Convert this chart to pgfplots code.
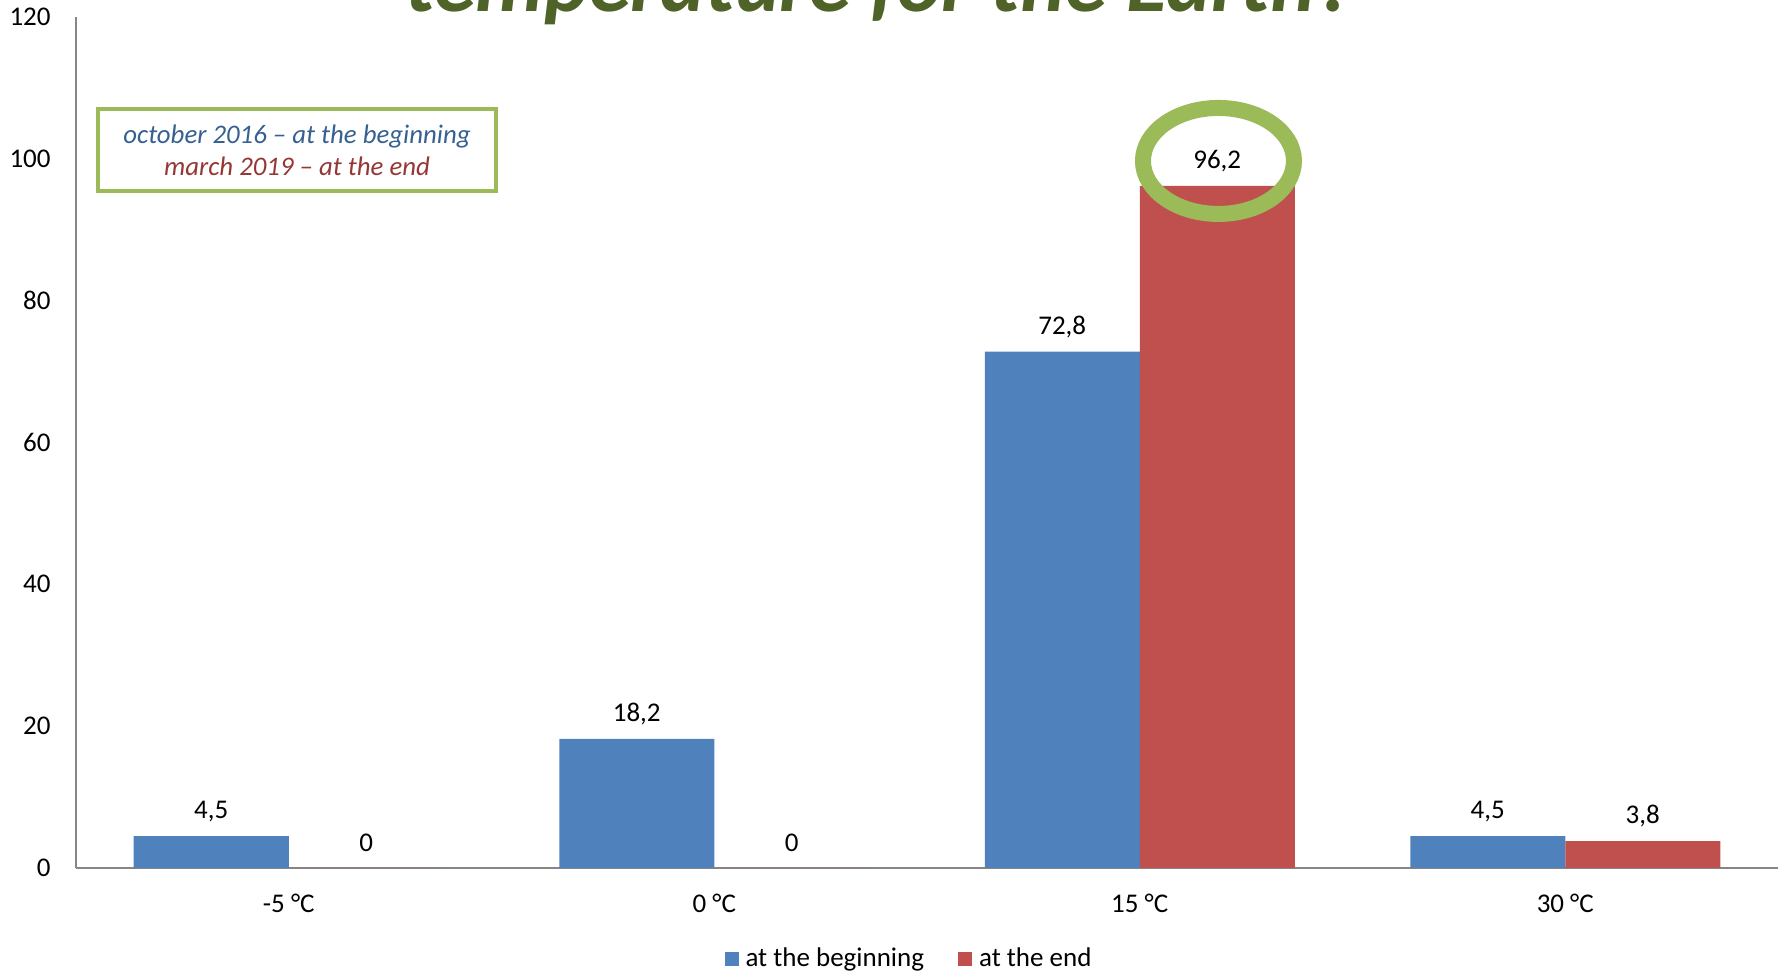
\documentclass[border=0pt]{standalone}
\usepackage{pgfplots}
\pgfplotsset{compat=1.18}
\usepackage{fontspec}
\setmainfont{Carlito}

\definecolor{barblue}{RGB}{79,129,189}
\definecolor{barred}{RGB}{192,80,77}
\definecolor{ringgreen}{RGB}{155,187,89}
\definecolor{titlegreen}{RGB}{79,98,40}
\definecolor{axisgray}{RGB}{134,134,134}
\definecolor{txtblue}{RGB}{54,96,146}
\definecolor{txtred}{RGB}{149,55,53}

\newcommand{\lbl}{\fontsize{13.5pt}{16pt}\selectfont}

\begin{document}
\begin{tikzpicture}
\begin{axis}[
    at={(38pt,52pt)}, anchor=south west,
    scale only axis, width=851pt, height=425.5pt,
    ybar=0pt, bar width=77.5pt,
    xmin=-0.5, xmax=3.5, ymin=0, ymax=120,
    xtick=data, xticklabels={-5 °C, 0 °C, 15 °C, 30 °C},
    ytick={0,20,...,120},
    axis x line*=bottom, axis y line*=left,
    axis line style={draw=axisgray, line width=0.8pt, -},
    major tick length=0pt,
    /pgf/number format/assume math mode=true,
    tick label style={font=\lbl},
    xticklabel style={anchor=center, yshift=-17.5pt},
    yticklabel style={anchor=east, inner sep=0pt, xshift=-12.5pt},
    nodes near coords={\pgfmathprintnumber[use comma, fixed, precision=1]{\pgfplotspointmeta}},
    nodes near coords style={font=\lbl, anchor=center, yshift=12.5pt, /pgf/number format/assume math mode=true},
    legend style={at={(0.49,-0.107)}, anchor=center, draw=none, font=\lbl,
        legend columns=2, /tikz/every even column/.append style={column sep=15pt}},
    legend image code/.code={\fill[#1] (0pt,-3.5pt) rectangle (7pt,3.5pt);},
    legend cell align=left,
]
\addplot[fill=barblue, draw=none] coordinates {(0,4.5) (1,18.2) (2,72.8) (3,4.5)};
\addlegendentry{\hspace{1.5pt}at the beginning}
\addplot[fill=barred, draw=none] coordinates {(0,0) (1,0) (2,96.2) (3,3.8)};
\addlegendentry{\hspace{1.5pt}at the end}
\draw[ringgreen, line width=8pt] (axis cs:2.185,99.7) ellipse [x radius=37.75pt, y radius=26.5pt];
\end{axis}

\node[draw=ringgreen, line width=2pt, minimum width=199pt, minimum height=41pt,
      align=center, font=\fontsize{13.4pt}{16pt}\selectfont\itshape]
  at (148.5pt,411pt) {\textcolor{txtblue}{october 2016 – at the beginning}\\
                      \textcolor{txtred}{march 2019 – at the end}};

\node[anchor=base, text=titlegreen, font=\fontsize{42.5pt}{46pt}\selectfont\bfseries\itshape, inner sep=0pt]
  at (440pt,480pt) {temperature for the Earth?};

\pgfresetboundingbox
\path (0,0) rectangle (893.5pt,486pt);
\end{tikzpicture}
\end{document}
